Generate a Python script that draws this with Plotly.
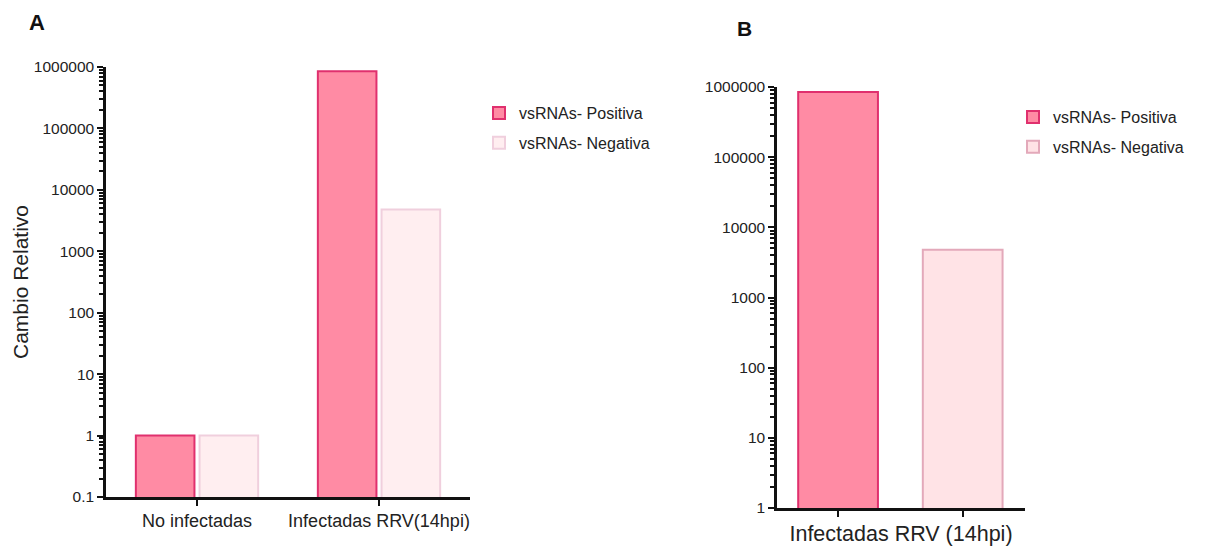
import plotly.graph_objects as go

# Panel A data
categorias = ["No infectadas", "Infectadas RRV(14hpi)"]
positiva_a = [1, 850000]
negativa_a = [1, 4800]

# Panel B data (infected samples only)
etiqueta_b = "Infectadas RRV (14hpi)"
positiva_b = [850000]
negativa_b = [4800]

# Log-axis tick labels
ticks_a = [0.1, 1, 10, 100, 1000, 10000, 100000, 1000000]
ticks_b = [1, 10, 100, 1000, 10000, 100000, 1000000]

POS_FILL, POS_LINE = "#FF8BA4", "#E0306E"
NEG_A_FILL, NEG_A_LINE = "#FFEEF0", "#F0CFDD"
NEG_B_FILL, NEG_B_LINE = "#FFE3E6", "#E3A9BA"

FONT = "Liberation Sans, Arial, sans-serif"
W, H = 1212, 546


def minor_vals(lo_exp, hi_exp):
    vals = []
    for e in range(lo_exp, hi_exp):
        for m in range(2, 10):
            vals.append(m * 10 ** e)
    return vals


fig = go.Figure()

fig.add_trace(go.Bar(
    x=categorias, y=positiva_a, name="vsRNAs- Positiva", legendgroup="pa",
    marker=dict(color=POS_FILL, line=dict(color=POS_LINE, width=2)),
    xaxis="x", yaxis="y", legend="legend",
))
fig.add_trace(go.Bar(
    x=categorias, y=negativa_a, name="vsRNAs- Negativa", legendgroup="na",
    marker=dict(color=NEG_A_FILL, line=dict(color=NEG_A_LINE, width=2)),
    xaxis="x", yaxis="y", legend="legend",
))

fig.add_trace(go.Bar(
    x=[0], y=positiva_b, name="vsRNAs- Positiva", width=0.64, offset=-0.32,
    legendgroup="pb",
    marker=dict(color=POS_FILL, line=dict(color=POS_LINE, width=2)),
    xaxis="x2", yaxis="y2", legend="legend2",
))
fig.add_trace(go.Bar(
    x=[1], y=negativa_b, name="vsRNAs- Negativa", width=0.64, offset=-0.32,
    legendgroup="nb",
    marker=dict(color=NEG_B_FILL, line=dict(color=NEG_B_LINE, width=2)),
    xaxis="x2", yaxis="y2", legend="legend2",
))

axis_common = dict(
    showgrid=False, zeroline=False, showline=True, automargin=False,
    linecolor="#111", linewidth=2.5, ticks="outside",
    tickcolor="#111", tickwidth=2, ticklen=6,
)

minor_style = dict(ticks="outside", dtick="D1", ticklen=4, tickwidth=1.5,
                   tickcolor="#111", showgrid=False)

# overlay axes carrying the minor log ticks
minor_common = dict(
    showgrid=False, zeroline=False, showline=False, automargin=False,
    type="log", ticks="outside", tickcolor="#111", tickwidth=1.5, ticklen=4,
    showticklabels=False, tickmode="array", side="left",
)

dom_ya = [49 / H, 479 / H]
dom_yb = [38 / H, 459 / H]

fig.update_layout(
    width=W, height=H,
    margin=dict(l=0, r=0, t=0, b=0),
    paper_bgcolor="white", plot_bgcolor="white",
    font=dict(family=FONT, color="#1a1a1a"),
    barmode="group", bargap=0.30, bargroupgap=0.08,
    hovermode=False,
    xaxis=dict(
        **axis_common, domain=[106 / W, 470 / W], anchor="y",
        type="category", range=[-0.5, 1.5],
        tickfont=dict(size=18, color="#222"),
    ),
    yaxis=dict(
        **axis_common, domain=dom_ya, anchor="x",
        type="log", range=[-1, 6],
        tickmode="array", tickvals=ticks_a,
        ticktext=[f"{v:g}" if v < 1 else str(int(v)) for v in ticks_a],
        tickfont=dict(size=15.5, color="#222"),
        minor=minor_style,
        title=dict(text="Cambio Relativo", font=dict(size=21, color="#222"), standoff=0),
    ),
    yaxis3=dict(
        **minor_common, domain=dom_ya, anchor="x", overlaying="y",
        range=[-1, 6], tickvals=minor_vals(-1, 6),
    ),
    xaxis2=dict(
        **axis_common, domain=[777 / W, 1025 / W], anchor="y2",
        range=[-0.49, 1.5], tickmode="array", tickvals=[0, 1], ticktext=["", ""],
        title=dict(text=etiqueta_b, font=dict(size=21.5, color="#222"), standoff=10),
    ),
    yaxis2=dict(
        **axis_common, domain=dom_yb, anchor="x2",
        type="log", range=[0, 6],
        tickmode="array", tickvals=ticks_b, ticktext=[str(v) for v in ticks_b],
        tickfont=dict(size=15.5, color="#222"),
        minor=minor_style,
    ),
    yaxis4=dict(
        **minor_common, domain=dom_yb, anchor="x2", overlaying="y2",
        range=[0, 6], tickvals=minor_vals(0, 6),
    ),
    legend=dict(
        x=479 / W, y=1 - 96 / H, xanchor="left", yanchor="top",
        font=dict(size=16, color="#222"), bgcolor="rgba(0,0,0,0)",
        tracegroupgap=6, itemsizing="constant",
    ),
    legend2=dict(
        x=1013 / W, y=1 - 100 / H, xanchor="left", yanchor="top",
        font=dict(size=16, color="#222"), bgcolor="rgba(0,0,0,0)",
        tracegroupgap=6, itemsizing="constant",
    ),
    annotations=[
        dict(text="<b>A</b>", x=37 / W, y=1 - 23 / H, xref="paper", yref="paper",
             xanchor="center", yanchor="middle",
             showarrow=False, font=dict(size=22, color="#111")),
        dict(text="<b>B</b>", x=744 / W, y=1 - 28 / H, xref="paper", yref="paper",
             xanchor="center", yanchor="middle",
             showarrow=False, font=dict(size=21, color="#111")),
    ],
)

# transparent points so the minor-tick overlay axes are drawn
fig.add_trace(go.Scatter(x=[categorias[0]], y=[1], xaxis="x", yaxis="y3",
                         mode="markers", marker=dict(opacity=0),
                         showlegend=False, hoverinfo="skip"))
fig.add_trace(go.Scatter(x=[0], y=[1], xaxis="x2", yaxis="y4",
                         mode="markers", marker=dict(opacity=0),
                         showlegend=False, hoverinfo="skip"))

fig.write_html("out.html")
